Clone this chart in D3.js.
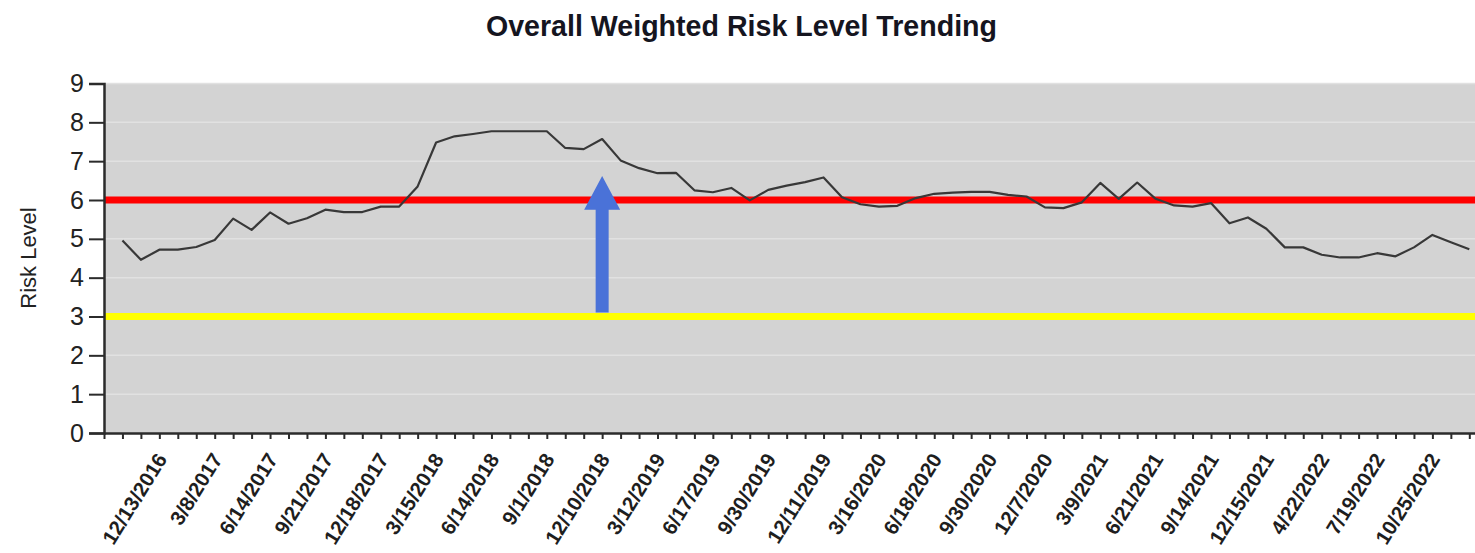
<!DOCTYPE html>
<html>
<head>
<meta charset="utf-8">
<script src="https://cdn.jsdelivr.net/npm/d3@7/dist/d3.min.js"></script>
<style>
  html, body { margin: 0; padding: 0; background: #fff; }
  svg { display: block; font-family: "Liberation Sans", Arial, sans-serif; }
</style>
</head>
<body>
<svg id="chart" width="1475" height="553"></svg>
<script>
// Overall weighted risk level, one reading per period
const riskValues = [
  4.96, 4.46, 4.72, 4.72, 4.79, 4.97, 5.52, 5.23, 5.68, 5.39,
  5.53, 5.75, 5.69, 5.69, 5.83, 5.83, 6.35, 7.48, 7.64, 7.70,
  7.77, 7.77, 7.77, 7.77, 7.34, 7.31, 7.57, 7.02, 6.82, 6.69,
  6.70, 6.25, 6.20, 6.31, 5.99, 6.26, 6.37, 6.46, 6.58, 6.07,
  5.89, 5.83, 5.85, 6.05, 6.16, 6.19, 6.21, 6.21, 6.13, 6.09,
  5.81, 5.79, 5.94, 6.44, 6.03, 6.45, 6.03, 5.86, 5.83, 5.92,
  5.40, 5.55, 5.26, 4.78, 4.78, 4.59, 4.52, 4.52, 4.63, 4.55,
  4.78, 5.10, 4.91, 4.73
];

// Dates shown on the category axis (every third reading, starting with the third)
const tickDates = [
  "12/13/2016", "3/8/2017", "6/14/2017", "9/21/2017", "12/18/2017", "3/15/2018",
  "6/14/2018", "9/1/2018", "12/10/2018", "3/12/2019", "6/17/2019", "9/30/2019",
  "12/11/2019", "3/16/2020", "6/18/2020", "9/30/2020", "12/7/2020", "3/9/2021",
  "6/21/2021", "9/14/2021", "12/15/2021", "4/22/2022", "7/19/2022", "10/25/2022"
];
const firstLabelIndex = 2;
const labelStep = 3;

// Threshold lines
const thresholds = [
  { value: 6, color: "#ff0000" },
  { value: 3, color: "#ffff00" }
];

// Annotation arrow at the 12/10/2018 reading: from just above the low threshold up to the high one
const arrowIndex = 26;
const arrowFrom = 3.1;
const arrowTo = 6.62;
const arrowHeadBase = 5.75;

const yTicks = [0, 1, 2, 3, 4, 5, 6, 7, 8, 9];

const svg = d3.select("#chart");
const W = 1475;
const plotLeft = 104, plotTop = 83.5, plotBottom = 433;
const step = 18.45;

const x = d3.scaleLinear()
  .domain([-1, riskValues.length + 1])
  .range([plotLeft, plotLeft + step * (riskValues.length + 2)]);
const y = d3.scaleLinear().domain([0, 9]).range([plotBottom, plotTop]);

// Title
svg.append("text")
  .attr("x", 741.5).attr("y", 36)
  .attr("text-anchor", "middle")
  .attr("font-size", 28.6).attr("font-weight", "bold")
  .attr("fill", "#15151f")
  .text("Overall Weighted Risk Level Trending");

// Plot background
svg.append("rect")
  .attr("x", plotLeft).attr("y", plotTop)
  .attr("width", W - plotLeft).attr("height", plotBottom - plotTop)
  .attr("fill", "#d3d3d3");

// Horizontal gridlines
svg.append("g")
  .selectAll("line")
  .data(yTicks.filter(d => d > 0))
  .join("line")
  .attr("x1", plotLeft).attr("x2", W)
  .attr("y1", d => y(d)).attr("y2", d => y(d))
  .attr("stroke", "#e1e1e1").attr("stroke-width", 1.5);

// Threshold lines
svg.append("g")
  .selectAll("line")
  .data(thresholds)
  .join("line")
  .attr("x1", plotLeft).attr("x2", W)
  .attr("y1", d => y(d.value)).attr("y2", d => y(d.value))
  .attr("stroke", d => d.color).attr("stroke-width", 7);

// Risk trend line
svg.append("path")
  .datum(riskValues)
  .attr("fill", "none")
  .attr("stroke", "#383838")
  .attr("stroke-width", 2.2)
  .attr("stroke-linejoin", "round")
  .attr("d", d3.line().x((d, i) => x(i)).y(d => y(d)));

// Annotation arrow
const ax = x(arrowIndex);
const shaftHalf = 6.5, headHalf = 18;
svg.append("path")
  .attr("fill", "#4a72d8")
  .attr("d", [
    "M", ax - shaftHalf, y(arrowFrom),
    "L", ax - shaftHalf, y(arrowHeadBase),
    "L", ax - headHalf, y(arrowHeadBase),
    "L", ax, y(arrowTo),
    "L", ax + headHalf, y(arrowHeadBase),
    "L", ax + shaftHalf, y(arrowHeadBase),
    "L", ax + shaftHalf, y(arrowFrom), "Z"
  ].join(" "));

// Y axis
const yAxis = svg.append("g")
  .attr("transform", `translate(${plotLeft},0)`)
  .call(d3.axisLeft(y).tickValues(yTicks).tickSize(15).tickPadding(5).tickFormat(d3.format("d")));
yAxis.select(".domain").attr("stroke", "#2b2b2b").attr("stroke-width", 2.5);
yAxis.selectAll(".tick line").attr("stroke", "#2b2b2b").attr("stroke-width", 2);
yAxis.selectAll(".tick text")
  .attr("font-size", 25).attr("fill", "#222")
  .attr("font-family", "'Liberation Sans', Arial, sans-serif");

// Y axis title
svg.append("text")
  .attr("transform", "translate(36,258) rotate(-90)")
  .attr("text-anchor", "middle")
  .attr("font-size", 22).attr("fill", "#222")
  .text("Risk Level");

// X axis: a tick per reading, a date label on every third
const xTickValues = d3.range(-1, riskValues.length + 2);
const labelFor = i => {
  const k = (i - firstLabelIndex) / labelStep;
  return (k >= 0 && Number.isInteger(k) && k < tickDates.length) ? tickDates[k] : "";
};
const xAxis = svg.append("g")
  .attr("transform", `translate(0,${plotBottom})`)
  .call(d3.axisBottom(x).tickValues(xTickValues).tickSize(6).tickSizeOuter(0).tickFormat(labelFor));
xAxis.select(".domain").attr("stroke", "#2b2b2b").attr("stroke-width", 2.5);
xAxis.selectAll(".tick line").attr("stroke", "#2b2b2b").attr("stroke-width", 2);
xAxis.selectAll(".tick text")
  .attr("x", 0).attr("y", 0).attr("dy", 0)
  .attr("text-anchor", "end")
  .attr("transform", "translate(8,26) rotate(-58)")
  .attr("font-size", 20.5).attr("font-weight", "bold").attr("fill", "#1e1e1e")
  .attr("font-family", "'Liberation Sans', Arial, sans-serif");
</script>
</body>
</html>
